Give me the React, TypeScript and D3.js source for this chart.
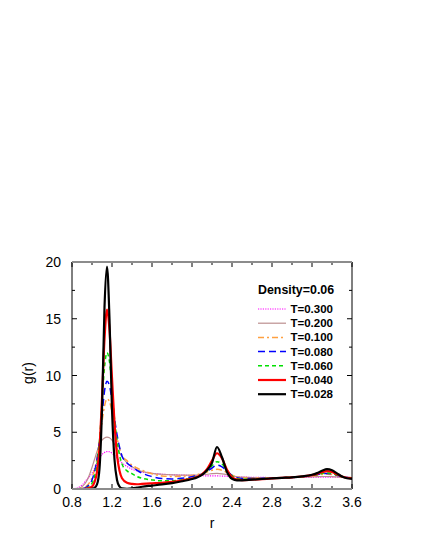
import React from "react";
import * as d3 from "d3";

const rValues = [
  0.8, 0.85, 0.9, 0.95, 1.0, 1.025, 1.05, 1.075, 1.1, 1.125, 1.15, 1.175, 1.2, 1.225, 1.25, 1.275, 1.3,
  1.35, 1.4, 1.45, 1.5, 1.6, 1.7, 1.8, 1.9, 2.0, 2.05, 2.1, 2.15, 2.2, 2.25, 2.3, 2.35, 2.4, 2.45, 2.5,
  2.6, 2.7, 2.8, 2.9, 3.0, 3.1, 3.2, 3.25, 3.3, 3.35, 3.4, 3.45, 3.5, 3.55, 3.6,
];

const gT0300 = [
  0.01, 0.08, 0.35, 0.85, 1.4, 1.8, 2.3, 2.75, 3.05, 3.22, 3.3, 3.28, 3.15, 2.95, 2.72, 2.5, 2.3,
  1.98, 1.75, 1.6, 1.5, 1.38, 1.3, 1.26, 1.22, 1.2, 1.18, 1.17, 1.16, 1.15, 1.15, 1.14, 1.12, 1.1, 1.07, 1.05,
  1.03, 1.02, 1.01, 1.01, 1.01, 1.02, 1.03, 1.04, 1.05, 1.05, 1.05, 1.04, 1.03, 1.02, 1.01,
];
const gT0200 = [
  0.0, 0.03, 0.2, 0.75, 1.9, 2.6, 3.3, 3.9, 4.3, 4.5, 4.57, 4.52, 4.3, 3.95, 3.6, 3.2, 2.85,
  2.3, 1.95, 1.7, 1.55, 1.38, 1.3, 1.25, 1.22, 1.22, 1.23, 1.26, 1.3, 1.35, 1.38, 1.34, 1.26, 1.16, 1.08, 1.04,
  1.0, 1.0, 1.0, 1.01, 1.02, 1.04, 1.07, 1.09, 1.1, 1.1, 1.09, 1.06, 1.03, 1.01, 1.0,
];
const gT0100 = [
  0.0, 0.01, 0.06, 0.3, 1.0, 1.7, 2.7, 4.2, 5.9, 7.3, 7.95, 7.7, 6.8, 5.6, 4.5, 3.6, 2.95,
  2.5, 2.1, 1.85, 1.65, 1.35, 1.15, 1.1, 1.12, 1.2, 1.27, 1.37, 1.5, 1.65, 1.73, 1.65, 1.45, 1.22, 1.07, 1.0,
  0.97, 0.97, 0.98, 1.0, 1.03, 1.08, 1.16, 1.22, 1.28, 1.3, 1.27, 1.18, 1.08, 1.02, 1.0,
];
const gT0080 = [
  0.0, 0.0, 0.03, 0.2, 0.8, 1.5, 2.6, 4.3, 6.5, 8.6, 9.5, 9.1, 7.8, 6.2, 4.8, 3.7, 2.9,
  2.3, 1.95, 1.65, 1.4, 1.1, 0.92, 0.88, 0.95, 1.08, 1.18, 1.32, 1.55, 1.85, 2.1, 1.95, 1.6, 1.2, 1.0, 0.93,
  0.92, 0.94, 0.97, 1.0, 1.04, 1.1, 1.2, 1.27, 1.34, 1.37, 1.33, 1.22, 1.1, 1.02, 0.99,
];
const gT0060 = [
  0.0, 0.0, 0.01, 0.1, 0.5, 1.1, 2.2, 4.3, 7.5, 10.7, 12.0, 11.2, 8.8, 6.2, 4.3, 3.0, 2.2,
  1.6, 1.35, 1.1, 0.95, 0.8, 0.72, 0.72, 0.82, 0.98, 1.1, 1.3, 1.62, 2.05, 2.4, 2.2, 1.65, 1.15, 0.92, 0.86,
  0.87, 0.91, 0.95, 0.99, 1.03, 1.1, 1.2, 1.28, 1.37, 1.42, 1.37, 1.24, 1.1, 1.01, 0.98,
];
const gT0040 = [
  0.0, 0.0, 0.0, 0.03, 0.2, 0.6, 1.5, 3.6, 8.0, 13.2, 15.8, 14.0, 9.8, 5.8, 3.0, 1.6, 0.95,
  0.55, 0.45, 0.42, 0.45, 0.5, 0.55, 0.62, 0.75, 0.92, 1.05, 1.3, 1.75, 2.5, 3.15, 2.7, 1.7, 1.05, 0.82, 0.78,
  0.82, 0.87, 0.93, 0.98, 1.03, 1.1, 1.22, 1.33, 1.48, 1.58, 1.5, 1.3, 1.1, 0.98, 0.94,
];
const gT0028 = [
  0.0, 0.0, 0.0, 0.0, 0.02, 0.1, 0.4, 1.8, 7.0, 16.0, 19.6, 15.0, 7.0, 2.6, 0.8, 0.22, 0.05,
  0.02, 0.05, 0.12, 0.2, 0.3, 0.4, 0.52, 0.68, 0.88, 1.02, 1.25, 1.65, 2.3, 3.7, 2.8, 1.5, 0.9, 0.76, 0.76,
  0.82, 0.88, 0.93, 0.98, 1.03, 1.11, 1.25, 1.4, 1.6, 1.75, 1.65, 1.38, 1.1, 0.95, 0.9,
];

const seriesLabels = ["T=0.300", "T=0.200", "T=0.100", "T=0.080", "T=0.060", "T=0.040", "T=0.028"];
const seriesValues = [gT0300, gT0200, gT0100, gT0080, gT0060, gT0040, gT0028];
const seriesColors = ["#ff00ff", "#bc8f8f", "#ffa040", "#0000ff", "#00e000", "#ff0000", "#000000"];
const seriesWidths = [1.2, 1.2, 1.5, 1.5, 1.5, 2.2, 2.2];
const seriesDash = ["1.2,1.2", "", "6,3,2,3", "7,4", "4,3", "", ""];

const xTickLabels = ["0.8", "1.2", "1.6", "2.0", "2.4", "2.8", "3.2", "3.6"];
const yTickLabels = ["0", "5", "10", "15", "20"];
const legendTitle = "Density=0.06";

const FONT = "'Liberation Sans', Arial, Helvetica, sans-serif";

export default function App() {
  const left = 72, right = 352, top = 262, bottom = 489;
  const x = d3.scaleLinear().domain([0.8, 3.6]).range([left, right]);
  const y = d3.scaleLinear().domain([0, 20]).range([bottom, top]);

  const line = d3
    .line<number>()
    .x((_, i) => x(rValues[i]))
    .y((d) => y(d))
    .curve(d3.curveMonotoneX);

  const xMinor = d3.range(0, 15).map((i) => 0.8 + i * 0.2);
  const yMinor = d3.range(0, 9).map((i) => i * 2.5);

  const legendX1 = 258, legendX2 = 286, legendTextX = 333;
  const legendY0 = 309, legendStep = 14.2;

  return (
    <svg
      width={425}
      height={550}
      style={{ position: "absolute", left: 0, top: 0, background: "#fff" }}
      fontFamily={FONT}
    >
      <defs>
        <clipPath id="plot">
          <rect x={left} y={top} width={right - left} height={bottom - top} />
        </clipPath>
      </defs>

      {/* ticks */}
      {xMinor.map((v, i) => {
        const major = i % 2 === 0;
        const len = major ? 5 : 3;
        return (
          <g key={"xt" + i} stroke="#000" strokeWidth={1}>
            <line x1={x(v)} x2={x(v)} y1={bottom} y2={bottom - len} />
            <line x1={x(v)} x2={x(v)} y1={top} y2={top + len} />
          </g>
        );
      })}
      {yMinor.map((v, i) => {
        const major = i % 2 === 0;
        const len = major ? 5 : 3;
        return (
          <g key={"yt" + i} stroke="#000" strokeWidth={1}>
            <line x1={left} x2={left + len} y1={y(v)} y2={y(v)} />
            <line x1={right} x2={right - len} y1={y(v)} y2={y(v)} />
          </g>
        );
      })}

      {/* curves */}
      <g clipPath="url(#plot)" fill="none">
        {seriesValues.map((vals, i) => (
          <path
            key={"s" + i}
            d={line(vals) || ""}
            stroke={seriesColors[i]}
            strokeWidth={seriesWidths[i]}
            strokeDasharray={seriesDash[i] || undefined}
            strokeLinejoin="round"
          />
        ))}
      </g>

      {/* frame */}
      <line x1={left} x2={left} y1={top} y2={bottom} stroke="#000" strokeWidth={1} />
      <line x1={right} x2={right} y1={top} y2={bottom} stroke="#000" strokeWidth={1} />
      <line x1={left} x2={right} y1={top} y2={top} stroke="#8c8c8c" strokeWidth={2} />
      <line x1={left} x2={right} y1={bottom} y2={bottom} stroke="#8c8c8c" strokeWidth={2} />

      {/* tick labels */}
      {xTickLabels.map((t) => (
        <text key={"xl" + t} x={x(+t)} y={507} textAnchor="middle" fontSize={14} fill="#000">
          {t}
        </text>
      ))}
      {yTickLabels.map((t) => (
        <text key={"yl" + t} x={61} y={y(+t) + 5} textAnchor="end" fontSize={14} fill="#000">
          {t}
        </text>
      ))}

      {/* axis labels */}
      <text x={212} y={528} textAnchor="middle" fontSize={14} fill="#000">
        r
      </text>
      <text
        transform={`translate(33,373) rotate(-90)`}
        textAnchor="middle"
        fontSize={14}
        fill="#000"
      >
        g(r)
      </text>

      {/* legend */}
      <text x={258} y={294} fontSize={12.4} fontWeight="bold" fill="#000">
        {legendTitle}
      </text>
      {seriesLabels.map((lab, i) => {
        const ly = legendY0 + i * legendStep;
        return (
          <g key={"lg" + i}>
            <line
              x1={legendX1}
              x2={legendX2}
              y1={ly}
              y2={ly}
              stroke={seriesColors[i]}
              strokeWidth={seriesWidths[i]}
              strokeDasharray={seriesDash[i] || undefined}
            />
            <text x={legendTextX} y={ly + 4} textAnchor="end" fontSize={11.5} fontWeight="bold" fill="#000">
              {lab}
            </text>
          </g>
        );
      })}
    </svg>
  );
}
